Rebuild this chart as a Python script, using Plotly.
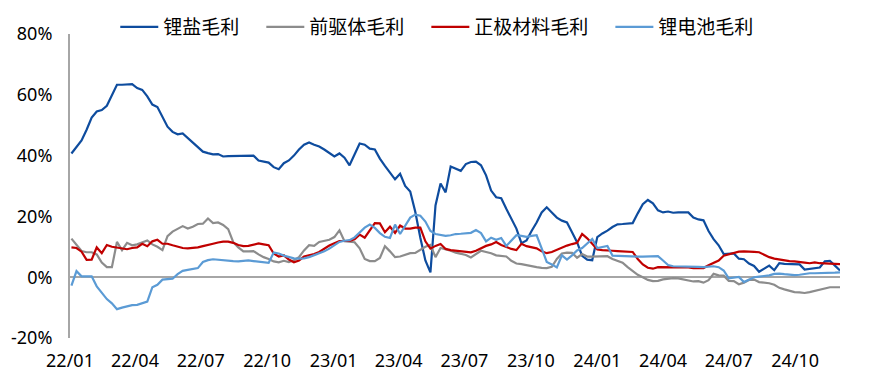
import pandas as pd
import plotly.graph_objects as go

# weekly observation dates (x axis categories)
dates = pd.date_range(start="2022-01-03", periods=153, freq="7D")

lithium_salt = [
    40.7, 43, 45, 48.5, 52.5, 54.5, 55, 56.4, 60, 63.3,
    63.3, 63.3, 63.5, 62.2, 61.6, 59.5, 56.8, 56, 52.5, 49.5,
    47.8, 47, 47.3, 45.8, 44.2, 42.8, 41.3, 40.8, 40.4, 40.5,
    39.7, 39.8, 39.8, 39.8, 39.8, 40, 40, 38.4, 38, 37.7,
    36.2, 35.5, 37.5, 38.4, 40, 42, 43.6, 44.3, 43.6, 43,
    42, 40.8, 39.7, 40.7, 39.3, 36.8, 40.5, 44, 43.6, 42.3,
    42, 39, 36.6, 34.5, 32.2, 34, 30, 28.2, 21.5, 13,
    5.5, 1.6, 23.6, 30.8, 27.9, 36.4, 35.6, 35, 37.2, 37.9,
    38, 36.8, 33.5, 28.5, 26.3, 26, 22.5, 19, 16, 11.2,
    12.1, 15.2, 18, 21.3, 23, 21.3, 19.6, 18.6, 18, 14.8,
    11.5, 7, 5.8, 5.6, 13.2, 14.4, 15.3, 16.5, 17.4, 17.5,
    17.6, 17.8, 21, 24, 25.4, 24.3, 22, 21.3, 21.6, 21.2,
    21.3, 21.3, 21.3, 19.6, 19, 18.7, 15.2, 12.5, 10.5, 7.6,
    7.7, 7.8, 6.1, 5.9, 4.5, 3.7, 1.8, 2.8, 3.8, 2.3,
    4.6, 4.4, 4.3, 4.3, 4.2, 2.5, 2.7, 2.9, 3.2, 5.2,
    5.4, 3.8, 2.2,
]

precursor = [
    12.7, 10.5, 8.6, 8.2, 8.2, 7.5, 4.8, 3.3, 3.3, 11.6,
    8.9, 11.3, 10.5, 10.8, 11.4, 12.1, 10.8, 10, 8.9, 13.5,
    15, 15.8, 16.8, 16, 16.6, 17.5, 17.6, 19.3, 17.8, 18,
    17.2, 15.8, 11.5, 9.8, 8.5, 8.5, 8.6, 7.5, 6.6, 6,
    5.2, 4.9, 5.4, 5, 5.6, 6.6, 8.8, 10.5, 10.3, 11.6,
    12, 12.3, 13.2, 15.4, 11.8, 11.7, 11.5, 9.5, 6, 5.3,
    5.3, 6.3, 10.2, 8.5, 6.6, 6.8, 7.3, 7.9, 8, 9,
    10, 10.6, 6.6, 9.6, 9.2, 8.7, 8.1, 7.6, 7.3, 6.5,
    7.5, 8.7, 8.3, 7.9, 7.2, 7, 6.8, 5.4, 4.5, 4.3,
    3.9, 3.6, 3.3, 3.1, 3, 3.4, 6, 7.8, 8.1, 8,
    6.4, 7.6, 6.8, 6.8, 6.9, 6.9, 6.9, 6, 5.4, 4.8,
    3.3, 2, 0.8, 0, -0.9, -1.3, -1.2, -0.7, -0.4, -0.3,
    -0.4, -0.7, -1, -1.4, -1.3, -1.8, -1, 1.1, 0.6, 0.5,
    -1.2, -1.3, -2.3, -1.8, -0.9, -0.8, -1.6, -1.7, -2, -2.5,
    -3.5, -4, -4.4, -4.9, -5, -5.2, -4.9, -4.5, -4.1, -3.6,
    -3.3, -3.3, -3.3,
]

cathode = [
    9.8, 9.6, 8.4, 5.7, 5.8, 9.8, 7.9, 10.6, 10, 9.8,
    9.4, 9.2, 9.6, 9.8, 11, 10.2, 11.8, 12.3, 11, 11,
    10.5, 10, 9.6, 9.5, 9.6, 9.8, 10.2, 10.7, 11, 11.4,
    11.7, 11.7, 11.3, 10.6, 10.2, 10.3, 10.6, 11.1, 10.8, 10.5,
    7.8, 6.8, 7.2, 5.8, 4.9, 5.5, 6.8, 7.1, 7.6, 8.3,
    9.5, 10.4, 11.2, 11.9, 11.9, 11.9, 12.5, 14, 13, 15.5,
    17.8, 17.7, 14.8, 16.6, 14.6, 17, 16, 16, 16.3, 16.3,
    11.8, 9.4, 10.3, 10.9, 9.3, 8.9, 8.7, 8.5, 8.3, 8.2,
    8.7, 9.6, 10.3, 10.8, 11.6, 10.6, 9.9, 9.3, 8.9, 11,
    10.2, 9.8, 9.5, 8.5, 7.9, 8.3, 9, 9.8, 10.4, 10.9,
    11.3, 14.2, 12.8, 11, 9.1, 8.9, 8.9, 8.7, 8.6, 8.5,
    8.5, 8.3, 6, 4.2, 3.1, 2.8, 3.3, 3.3, 3.2, 3.1,
    3.2, 3.3, 3.2, 3, 3, 3, 3.9, 4.6, 5.5, 7.1,
    7.6, 8, 8.4, 8.5, 8.5, 8.3, 8.2, 7.3, 6.6, 6.1,
    5.8, 5.5, 5.3, 5.2, 4.9, 4.8, 4.6, 4.9, 4.6, 4.5,
    4.5, 4.4, 4.3,
]

battery = [
    -2.8, 2, 0.3, 0.3, 0.3, -3, -5.2, -7.2, -8.6, -10.5,
    -10, -9.5, -9.2, -9.1, -8.6, -8, -3.3, -2.5, -0.8, -0.7,
    -0.5, 1, 2.1, 2.4, 2.7, 3, 5, 5.6, 5.9, 5.7,
    5.6, 5.5, 5.3, 5.2, 5.3, 5.5, 5.3, 5.1, 4.9, 4.7,
    8.1, 7.8, 7.1, 6.7, 6.2, 6.1, 6.2, 6.6, 7.2, 7.9,
    8.5, 9.4, 10.4, 11.6, 12, 12.2, 13.1, 14.6, 16.3, 17.3,
    16.2, 14.5, 13.3, 12.9, 17.3, 14.2, 16.8, 19.6, 20.6, 20.2,
    18.3, 15.2, 14.2, 13.8, 13.6, 13.8, 14.2, 14.3, 14.4, 14.6,
    15.5, 14.5, 11.8, 13, 12.3, 12.9, 10.3, 12, 13.8, 13.6,
    13.3, 13.6, 13.8, 9.5, 5, 4.2, 3.2, 7.2, 5.8, 7.2,
    8.8, 9.6, 11, 12.6, 9.6, 10, 10.3, 7.1, 7, 6.9,
    6.9, 6.8, 6.8, 6.8, 6.9, 7, 6.9, 5.5, 4, 3.6,
    3.6, 3.5, 3.5, 3.5, 3.4, 3.3, 3.4, 3.6, 3.3, 2.2,
    -0.4, -0.2, 0.1, -1.6, -0.7, 0, 0.2, 0.4, 0.6, 1.1,
    1.2, 1, 0.8, 0.7, 0.8, 1.1, 1.3, 1.3, 1.3, 1.4,
    1.5, 1.5, 1.6,
]

series_names = ["锂盐毛利", "前驱体毛利", "正极材料毛利", "锂电池毛利"]
series_colors = ["#0E4C9E", "#8C8C8C", "#C00000", "#5B9BD5"]
series_values = [lithium_salt, precursor, cathode, battery]

x_tick_vals = ["2022-01-01", "2022-04-01", "2022-07-01", "2022-10-01",
               "2023-01-01", "2023-04-01", "2023-07-01", "2023-10-01",
               "2024-01-01", "2024-04-01", "2024-07-01", "2024-10-01"]
x_tick_text = ["22/01", "22/04", "22/07", "22/10", "23/01", "23/04",
               "23/07", "23/10", "24/01", "24/04", "24/07", "24/10"]
y_tick_vals = [-20, 0, 20, 40, 60, 80]
y_tick_text = ["-20%", "0%", "20%", "40%", "60%", "80%"]

CJK_FONT = "Noto Sans CJK SC"
NUM_FONT = "Noto Sans"
PAD = "\u00a0" * 4  # spacing between legend entries

fig = go.Figure()
for name, color, vals in zip(series_names, series_colors, series_values):
    fig.add_trace(go.Scatter(
        x=dates, y=vals, name=name + PAD, mode="lines",
        line=dict(color=color, width=2.2),
    ))

fig.update_layout(
    width=861, height=371,
    margin=dict(l=62, r=29, t=26, b=41, autoexpand=False),
    paper_bgcolor="white", plot_bgcolor="white",
    font=dict(family=CJK_FONT, color="#000000"),
    showlegend=True,
    legend=dict(
        orientation="h", x=0.0588, xanchor="left", y=1.023, yanchor="middle",
        font=dict(size=19, family=CJK_FONT, color="#000000"),
        bgcolor="rgba(0,0,0,0)", itemwidth=38, traceorder="normal",
    ),
)
fig.update_xaxes(
    type="date", range=["2022-01-01", "2024-12-02"], automargin=False,
    tickmode="array", tickvals=x_tick_vals, ticktext=x_tick_text,
    showgrid=False, zeroline=False, showline=False,
    ticks="outside", ticklen=6, tickcolor="rgba(0,0,0,0)",
    tickfont=dict(size=18, family=NUM_FONT, color="#000000"),
)
fig.update_yaxes(
    range=[-20, 80], automargin=False,
    tickmode="array", tickvals=y_tick_vals, ticktext=y_tick_text,
    showgrid=False,
    zeroline=True, zerolinecolor="#A6A6A6", zerolinewidth=2,
    showline=True, linecolor="#A6A6A6", linewidth=2,
    ticks="outside", ticklen=12, tickcolor="rgba(0,0,0,0)",
    tickfont=dict(size=18, family=NUM_FONT, color="#000000"),
)

fig.write_html("out.html")
